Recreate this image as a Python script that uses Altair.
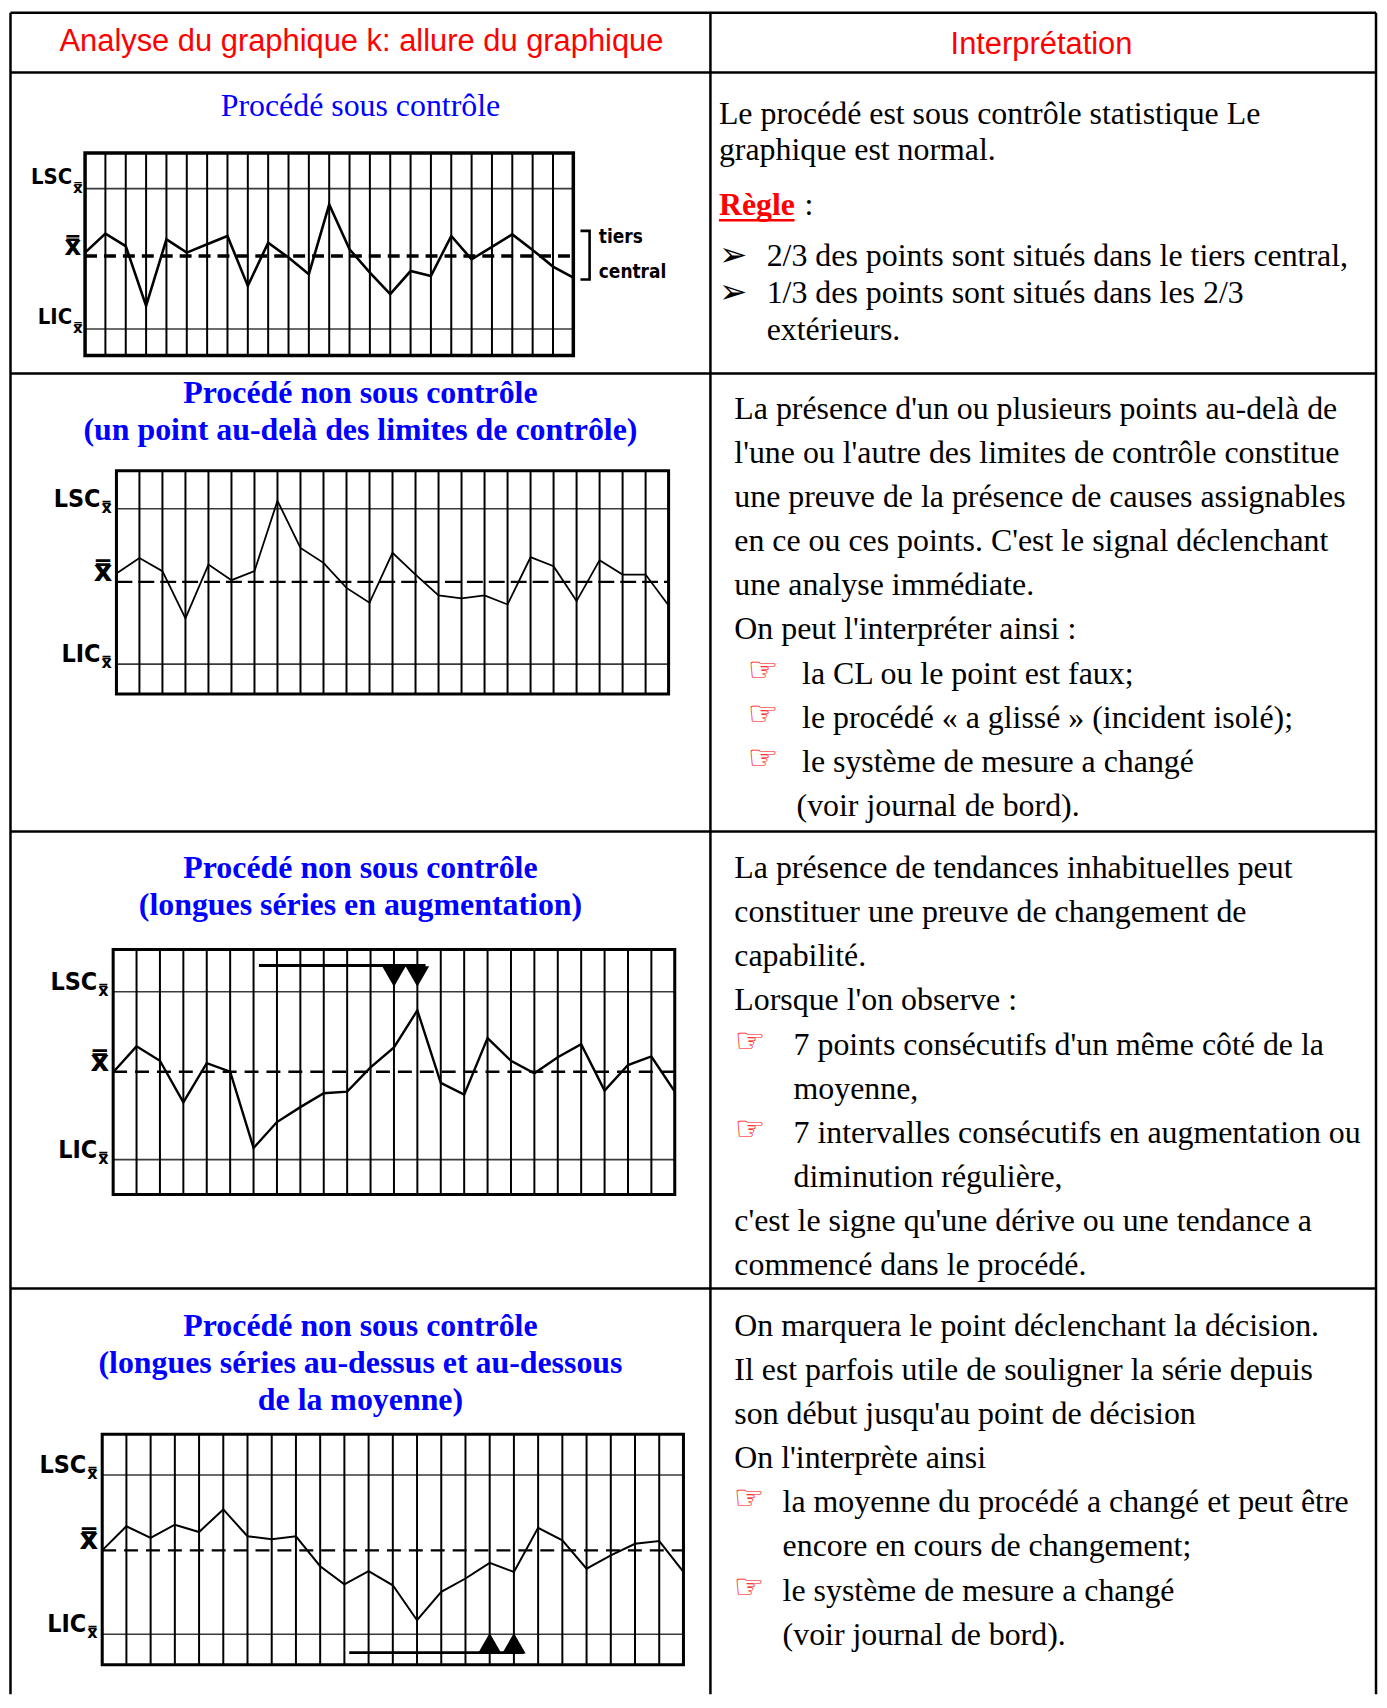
import altair as alt
import pandas as pd

# ------------------------------------------------------------------
# DATA -- units: sigma, centre line = 0, LSC = +3
# ------------------------------------------------------------------
LSC = 3.0
CENTRE = 0.0
LIMIT_LABELS = ["LSC", "LIC"]
XBAR = "x\u033f"   # x double bar

vals1 = [0.15, 1.00, 0.44, -2.22, 0.74, 0.15, 0.52, 0.89, -1.33, 0.59, -0.07, -0.81, 2.29,
         0.30, -0.74, -1.70, -0.67, -0.89, 0.89, -0.15, 0.41, 0.96, 0.27, -0.47, -0.96]
lic1 = -3.25
vals2 = [0.34, 0.98, 0.44, -1.50, 0.71, 0.07, 0.44, 3.33, 1.39, 0.78, -0.25, -0.86, 1.19,
         0.30, -0.56, -0.68, -0.56, -0.93, 1.01, 0.64, -0.79, 0.89, 0.30, 0.30, -0.97]
lic2 = -3.38
vals3 = [-0.02, 0.95, 0.41, -1.15, 0.32, 0.00, -2.86, -1.89, -1.33, -0.81, -0.75, 0.16, 0.91,
         2.30, -0.42, -0.86, 1.26, 0.41, -0.06, 0.54, 1.03, -0.71, 0.25, 0.57, -0.75]
lic3 = -3.30
vals4 = [0.00, 0.96, 0.50, 1.02, 0.73, 1.63, 0.56, 0.44, 0.56, -0.63, -1.35, -0.83, -1.39,
         -2.78, -1.65, -1.12, -0.50, -0.86, 0.90, 0.40, -0.73, -0.20, 0.26, 0.37, -0.86]
lic4 = -3.34

# "tiers central" bracket of chart 1 (sample-index units / sigma units)
bracket1_cols = [24.35, 24.8, 24.8, 24.35]
bracket1_vals = [1.12, 1.12, -1.05, -1.05]
bracket1_text = ["tiers", "central"]
bracket1_text_vals = [0.86, -0.70]
bracket1_text_col = 25.25

# run markers (underline of the series + decision triangles)
run3_span = [6.23, 13.35]
run3_level = 3.98
run3_marks = [12, 13]
run3_mark_level = 3.57
run4_span = [10.2, 17.4]
run4_level = -4.07
run4_marks = [16, 17]
run4_mark_level = -3.70

HEADER = ["Analyse du graphique k: allure du graphique", "Interprétation"]
TITLE1 = ["Procédé sous contrôle"]
TITLE2 = ["Procédé non sous contrôle", "(un point au-delà des limites de contrôle)"]
TITLE3 = ["Procédé non sous contrôle", "(longues séries en augmentation)"]
TITLE4 = ["Procédé non sous contrôle", "(longues séries au-dessus et au-dessous", "de la moyenne)"]

ROW1_TEXT = ["Le procédé est sous contrôle statistique Le", "graphique est normal."]
ROW1_RULE = ["Règle", ":"]
ROW1_ITEMS = [("b", "2/3 des points sont situés dans le tiers central,"),
              ("b", "1/3 des points sont situés dans les 2/3"),
              ("c", "extérieurs.")]
ROW2_ITEMS = [("p", "La présence d'un ou plusieurs points au-delà de"),
              ("p", "l'une ou l'autre des limites de contrôle constitue"),
              ("p", "une preuve de la présence de causes assignables"),
              ("p", "en ce ou ces points. C'est le signal déclenchant"),
              ("p", "une analyse immédiate."),
              ("p", "On peut l'interpréter ainsi :"),
              ("b", "la CL ou le point est faux;"),
              ("b", "le procédé « a glissé » (incident isolé);"),
              ("b", "le système de mesure a changé"),
              ("c", "(voir journal de bord).")]
ROW3_ITEMS = [("p", "La présence de tendances inhabituelles peut"),
              ("p", "constituer une preuve de changement de"),
              ("p", "capabilité."),
              ("p", "Lorsque l'on observe :"),
              ("b", "7 points consécutifs d'un même côté de la"),
              ("c", "moyenne,"),
              ("b", "7 intervalles consécutifs en augmentation ou"),
              ("c", "diminution régulière,"),
              ("p", "c'est le signe qu'une dérive ou une tendance a"),
              ("p", "commencé dans le procédé.")]
ROW4_ITEMS = [("p", "On marquera le point déclenchant la décision."),
              ("p", "Il est parfois utile de souligner la série depuis"),
              ("p", "son début jusqu'au point de décision"),
              ("p", "On l'interprète ainsi"),
              ("b", "la moyenne du procédé a changé et peut être"),
              ("c", "encore en cours de changement;"),
              ("b", "le système de mesure a changé"),
              ("c", "(voir journal de bord).")]
ARROW = "➢"
HAND = "☞"

# ------------------------------------------------------------------
# LAYOUT (page pixels; the canvas starts at the 8px page margin)
# ------------------------------------------------------------------
O = 8
W, H = 1377, 1690
SERIF = "Liberation Serif"
SANS = "Liberation Sans"
LABEL = "Liberation Sans Narrow, DejaVu Sans Condensed, Liberation Sans"
SYM = "DejaVu Sans"
RED, BLUE = "#ff0000", "#0000ff"
LEFT_CX = 362

TABLE_H = [9, 69, 371.5, 831.5, 1290.5]
TABLE_V = [10.5, 713.5, 1382]

GEO = [
    dict(x0=85.4, x1=575.8, ytop=150, ybot=353.3, ylsc=185.7, ylic=326.7),
    dict(x0=116.9, x1=671.5, ytop=469, ybot=693.3, ylsc=507.3, ylic=663.3),
    dict(x0=113.6, x1=677.7, ytop=950, ybot=1196, ylsc=992.3, ylic=1161),
    dict(x0=102.6, x1=686.4, ytop=1436.7, ybot=1668.3, ylsc=1477.7, ylic=1637.7),
]
STY = [
    dict(frame=3.5, grid=2.0, line=2.6, dashw=3.5, dash=[12, 7], fs=22, ldy=5, subw=12),
    dict(frame=3.0, grid=2.0, line=1.8, dashw=2.2, dash=[16, 6], fs=25, ldy=2, subw=15),
    dict(frame=3.0, grid=2.0, line=2.4, dashw=2.6, dash=[14, 8], fs=25, ldy=2, subw=15),
    dict(frame=3.0, grid=2.0, line=2.0, dashw=2.2, dash=[14, 8], fs=25, ldy=2, subw=15),
]


def control_chart(vals, lic, g, st, extras_fn=None):
    n = len(vals)
    xs = alt.Scale(domain=[0, n - 1], range=[g["x0"] - O, g["x1"] - O], nice=False, zero=False)
    ys = alt.Scale(domain=[lic, LSC], range=[g["ylic"] - O, g["ylsc"] - O], nice=False, zero=False)

    def X(f):
        return alt.X(f, type="quantitative", scale=xs, axis=None)

    def Y(f):
        return alt.Y(f, type="quantitative", scale=ys, axis=None)

    pts = pd.DataFrame({"i": list(range(n)), "v": vals})
    span = pd.DataFrame({"a": [0], "b": [n - 1]})
    lims = pd.DataFrame({"v": [LSC, lic], "a": [0, 0], "b": [n - 1, n - 1], "t": LIMIT_LABELS})
    mid = pd.DataFrame({"v": [CENTRE], "a": [0], "b": [n - 1]})
    top, bot = g["ytop"] - O, g["ybot"] - O
    lx = g["x0"] - O
    fs = st["fs"]

    layers = [
        alt.Chart(lims).mark_rule(color="#3a3a3a", strokeWidth=1.6).encode(
            x=X("a"), x2="b", y=Y("v")),
        alt.Chart(pts).mark_rule(color="black", strokeWidth=st["grid"]).encode(
            x=X("i"), y=alt.value(top), y2=alt.value(bot)),
        alt.Chart(span).mark_rect(fillOpacity=0, stroke="black", strokeWidth=st["frame"]).encode(
            x=X("a"), x2="b", y=alt.value(top), y2=alt.value(bot)),
        alt.Chart(mid).mark_rule(color="black", strokeWidth=st["dashw"], strokeDash=st["dash"]).encode(
            x=X("a"), x2="b", y=Y("v")),
        alt.Chart(pts).mark_line(color="black", strokeWidth=st["line"]).encode(
            x=X("i"), y=Y("v")),
        # limit labels LSC / LIC with subscript x-double-bar
        alt.Chart(lims).mark_text(align="right", baseline="alphabetic", font=LABEL, fontWeight="bold",
                                  fontSize=fs, dy=-st["ldy"], color="black").encode(
            x=alt.value(lx - st["subw"] - 1), y=Y("v"), text="t:N"),
        alt.Chart(lims).mark_text(align="left", baseline="alphabetic", font=SYM, fontWeight="bold",
                                  fontSize=round(fs * 0.66), dy=4, color="black").encode(
            x=alt.value(lx - st["subw"]), y=Y("v"), text=alt.value(XBAR)),
        # centre line label: x double bar
        alt.Chart(mid).mark_text(align="right", baseline="alphabetic", font=SYM, fontWeight="bold",
                                 fontSize=fs + 4, dy=-1, color="black").encode(
            x=alt.value(lx - 4), y=Y("v"), text=alt.value(XBAR)),
    ]
    if extras_fn is not None:
        layers += extras_fn(X, Y)
    return alt.layer(*layers)


def extras1(X, Y):
    br = pd.DataFrame({"c": bracket1_cols, "v": bracket1_vals, "o": list(range(len(bracket1_cols)))})
    bt = pd.DataFrame({"t": bracket1_text, "v": bracket1_text_vals, "c": [bracket1_text_col] * 2})
    return [
        alt.Chart(br).mark_line(color="black", strokeWidth=2.6).encode(x=X("c"), y=Y("v"), order="o:Q"),
        alt.Chart(bt).mark_text(align="left", baseline="middle", font=LABEL, fontWeight="bold",
                                fontSize=19, color="black").encode(x=X("c"), y=Y("v"), text="t:N"),
    ]


def run_extras(span, level, marks, mark_level, shape):
    def fn(X, Y):
        ln = pd.DataFrame({"a": [span[0]], "b": [span[1]], "v": [level]})
        tri = pd.DataFrame({"i": marks, "v": [mark_level] * len(marks)})
        return [
            alt.Chart(ln).mark_rule(color="black", strokeWidth=3).encode(x=X("a"), x2="b", y=Y("v")),
            alt.Chart(tri).mark_point(shape=shape, filled=True, color="black", opacity=1, size=560).encode(
                x=X("i"), y=Y("v")),
        ]
    return fn


charts = [
    control_chart(vals1, lic1, GEO[0], STY[0], extras1),
    control_chart(vals2, lic2, GEO[1], STY[1]),
    control_chart(vals3, lic3, GEO[2], STY[2],
                  run_extras(run3_span, run3_level, run3_marks, run3_mark_level, "triangle-down")),
    control_chart(vals4, lic4, GEO[3], STY[3],
                  run_extras(run4_span, run4_level, run4_marks, run4_mark_level, "triangle-up")),
]

# ------------------------------------------------------------------
# TABLE BORDERS
# ------------------------------------------------------------------
brd = []
for y in TABLE_H:
    brd.append({"x": TABLE_V[0] - O, "x2": TABLE_V[-1] - O, "y": y - O, "y2": y - O})
for x in TABLE_V:
    brd.append({"x": x - O, "x2": x - O, "y": TABLE_H[0] - O, "y2": H})
borders = alt.Chart(pd.DataFrame(brd)).mark_rule(color="black", strokeWidth=2.5).encode(
    x=alt.X("x:Q", scale=None, axis=None), x2="x2:Q",
    y=alt.Y("y:Q", scale=None, axis=None), y2="y2:Q")


def text_layer(rows, **kw):
    df = pd.DataFrame(rows, columns=["x", "y", "t"])
    df["x"] = df["x"] - O
    df["y"] = df["y"] - O
    return alt.Chart(df).mark_text(**kw).encode(
        x=alt.X("x:Q", scale=None, axis=None), y=alt.Y("y:Q", scale=None, axis=None), text="t:N")


# header
header = text_layer([(363, 38.2, HEADER[0]), (1046, 41.2, HEADER[1])],
                    align="center", baseline="middle", font=SANS, fontSize=31, color=RED)

# titles of the left column
title_reg = text_layer([(LEFT_CX, 103, TITLE1[0])],
                       align="center", baseline="middle", font=SERIF, fontSize=32, color=BLUE)
title_rows = []
for lines, y0 in [(TITLE2, 391.5), (TITLE3, 868.5), (TITLE4, 1328.5)]:
    for k, s in enumerate(lines):
        title_rows.append((LEFT_CX, y0 + 37 * k, s))
title_bold = text_layer(title_rows, align="center", baseline="middle", font=SERIF, fontSize=32,
                        fontWeight="bold", color=BLUE)

# right column body text
body, hands, arrows = [], [], []
# row 1
body.append((722, 111, ROW1_TEXT[0]))
body.append((722, 147, ROW1_TEXT[1]))
body.append((808, 202.5, ROW1_RULE[1]))
for k, (kind, s) in enumerate(ROW1_ITEMS):
    y = 253.5 + 37.2 * k
    body.append((770, y, s))
    if kind == "b":
        arrows.append((722, y, ARROW))

ROW_LAYOUT = [
    (ROW2_ITEMS, 407, 44.3, 737.5, 751, 805.5, 800),
    (ROW3_ITEMS, 868, 44.35, 737.5, 738, 797, 797),
    (ROW4_ITEMS, 1328, 44.3, 737.5, 737, 786, 786),
]
for items, y0, dy, xp, xh, xb, xc in ROW_LAYOUT:
    for k, (kind, s) in enumerate(items):
        y = y0 + dy * k
        if kind == "p":
            body.append((xp, y, s))
        elif kind == "b":
            body.append((xb, y, s))
            hands.append((xh, y - 3, HAND))
        else:
            body.append((xc, y, s))

body_layer = text_layer(body, align="left", baseline="middle", font=SERIF, fontSize=32, color="black")
hand_layer = text_layer(hands, align="left", baseline="middle", font=SYM, fontSize=34,
                        fontWeight="bold", color=RED)
arrow_layer = text_layer(arrows, align="left", baseline="middle", font=SYM, fontSize=34, color="black")
regle = text_layer([(722, 202.5, ROW1_RULE[0])], align="left", baseline="middle", font=SERIF,
                   fontSize=32, fontWeight="bold", color=RED)
underline = alt.Chart(pd.DataFrame({"x": [722 - O], "x2": [798 - O], "y": [217.5 - O]})).mark_rule(
    color=RED, strokeWidth=2.5).encode(
    x=alt.X("x:Q", scale=None, axis=None), x2="x2:Q", y=alt.Y("y:Q", scale=None, axis=None))

chart = alt.layer(
    borders, header, title_reg, title_bold, body_layer, hand_layer, arrow_layer, regle, underline,
    *charts
).resolve_scale(x="independent", y="independent").properties(
    width=W, height=H, padding=0, autosize=alt.AutoSizeParams(type="none"),
    background="white"
).configure_view(stroke=None)

chart.save("out.html", embed_options={"renderer": "svg", "actions": False})
